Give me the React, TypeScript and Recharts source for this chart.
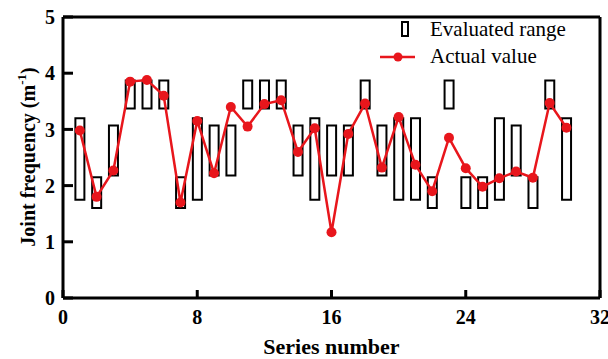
import React from 'react';
import { ComposedChart, Bar, Line, XAxis, YAxis, Legend } from 'recharts';

const seriesNumbers = [1, 2, 3, 4, 5, 6, 7, 8, 9, 10, 11, 12, 13, 14, 15, 16, 17, 18, 19, 20, 21, 22, 23, 24, 25, 26, 27, 28, 29, 30];
const rangeLow = [1.75, 1.6, 2.18, 3.37, 3.37, 3.37, 1.6, 1.75, 2.18, 2.18, 3.37, 3.37, 3.37, 2.18, 1.75, 2.18, 2.18, 3.37, 2.18, 1.75, 1.75, 1.6, 3.37, 1.6, 1.6, 1.75, 2.18, 1.6, 3.37, 1.75];
const rangeHigh = [3.2, 2.15, 3.07, 3.87, 3.87, 3.87, 2.15, 3.2, 3.07, 3.07, 3.87, 3.87, 3.87, 3.07, 3.2, 3.07, 3.07, 3.87, 3.07, 3.2, 3.2, 2.15, 3.87, 2.15, 2.15, 3.2, 3.07, 2.15, 3.87, 3.2];
const actualValues = [2.98, 1.8, 2.27, 3.85, 3.88, 3.6, 1.7, 3.15, 2.22, 3.4, 3.05, 3.45, 3.52, 2.6, 3.02, 1.17, 2.92, 3.46, 2.32, 3.22, 2.37, 1.9, 2.85, 2.31, 1.98, 2.13, 2.25, 2.14, 3.47, 3.03];
const xTicks = [0, 8, 16, 24, 32];
const yTicks = [0, 1, 2, 3, 4, 5];

const data = seriesNumbers.map((n, i) => ({
  n,
  range: [rangeLow[i], rangeHigh[i]],
  actual: actualValues[i],
}));

const FONT = '"Liberation Serif", "Times New Roman", serif';
const RED = '#e8161c';

const YLabel = () => (
  <text
    x={30}
    y={157}
    transform="rotate(-90 30 157)"
    textAnchor="middle"
    dominantBaseline="middle"
    fontFamily={FONT}
    fontWeight="bold"
    fontSize={20}
    fill="#000"
  >
    Joint frequency (m
    <tspan dy={-7} fontSize={13}>-1</tspan>
    <tspan dy={7}>)</tspan>
  </text>
);

const LegendContent = () => (
  <div style={{ fontFamily: FONT, fontSize: 21, color: '#000', lineHeight: '27px' }}>
    <div style={{ display: 'flex', alignItems: 'center' }}>
      <svg width={50} height={27}>
        <rect x={22} y={6} width={6} height={14} fill="#fff" stroke="#000" strokeWidth={2} />
      </svg>
      <span>Evaluated range</span>
    </div>
    <div style={{ display: 'flex', alignItems: 'center' }}>
      <svg width={50} height={27}>
        <line x1={0} y1={14} x2={35} y2={14} stroke={RED} strokeWidth={2.5} />
        <circle cx={18} cy={14} r={4.5} fill={RED} />
      </svg>
      <span>Actual value</span>
    </div>
  </div>
);

export default function App() {
  return (
    <div style={{ position: 'absolute', left: 0, top: 0 }}>
      <ComposedChart
        width={608}
        height={359}
        data={data}
        margin={{ top: 16, right: 7, bottom: 0, left: 0 }}
      >
        <XAxis
          dataKey="n"
          type="number"
          domain={[0, 32]}
          ticks={xTicks}
          interval={0}
          height={61}
          tickSize={-8}
          tickMargin={20}
          axisLine={{ stroke: '#000', strokeWidth: 3 }}
          tickLine={{ stroke: '#000', strokeWidth: 3 }}
          tick={{ fill: '#000', fontFamily: FONT, fontWeight: 'bold', fontSize: 20 }}
          label={{
            value: 'Series number',
            position: 'insideBottom',
            offset: 5,
            fill: '#000',
            fontFamily: FONT,
            fontWeight: 'bold',
            fontSize: 22,
          }}
        />
        <XAxis
          xAxisId="top"
          orientation="top"
          type="number"
          domain={[0, 32]}
          height={1}
          tick={false}
          tickLine={false}
          axisLine={{ stroke: '#000', strokeWidth: 3 }}
        />
        <YAxis
          type="number"
          domain={[0, 5]}
          ticks={yTicks}
          interval={0}
          width={63}
          tickSize={-10}
          tickMargin={18}
          axisLine={{ stroke: '#000', strokeWidth: 3 }}
          tickLine={{ stroke: '#000', strokeWidth: 3 }}
          tick={{ fill: '#000', fontFamily: FONT, fontWeight: 'bold', fontSize: 20 }}
          label={<YLabel />}
        />
        <YAxis
          yAxisId="right"
          orientation="right"
          type="number"
          domain={[0, 5]}
          width={1}
          tick={false}
          tickLine={false}
          axisLine={{ stroke: '#000', strokeWidth: 3 }}
        />
        <Legend
          content={<LegendContent />}
          layout="horizontal"
          verticalAlign="middle"
          align="center"
          wrapperStyle={{ position: 'absolute', left: 380, top: 16, width: 220 }}
        />
        <Bar
          dataKey="range"
          barSize={9}
          fill="#fff"
          stroke="#000"
          strokeWidth={2}
          isAnimationActive={false}
        />
        <Line
          dataKey="actual"
          type="linear"
          stroke={RED}
          strokeWidth={2.5}
          dot={{ r: 5, fill: RED, stroke: RED, strokeWidth: 0 }}
          isAnimationActive={false}
        />
      </ComposedChart>
    </div>
  );
}
